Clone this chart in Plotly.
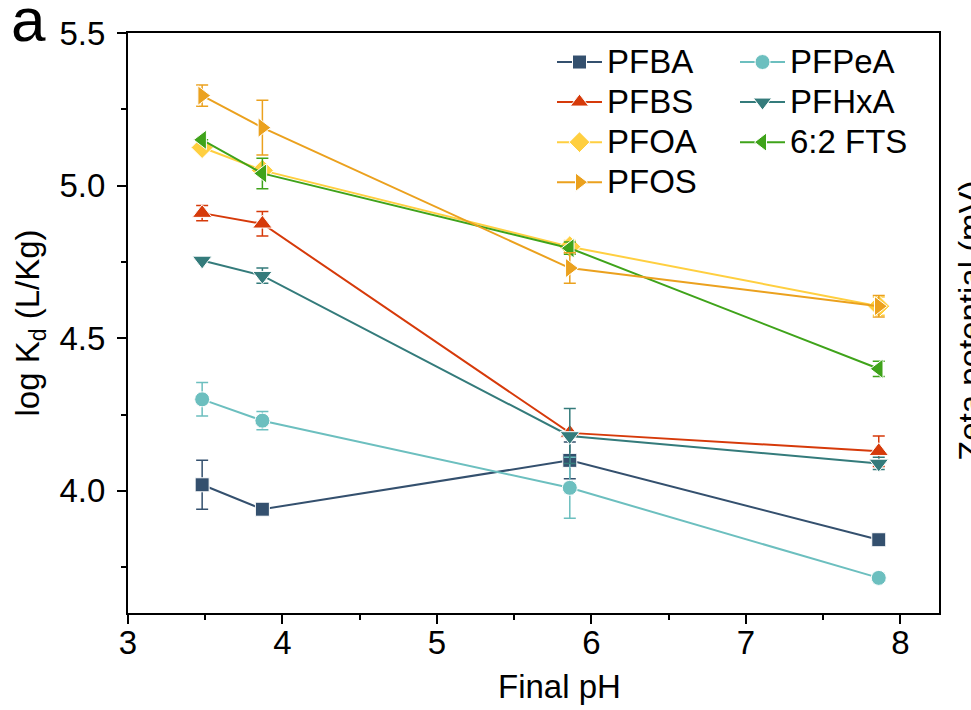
import plotly.graph_objects as go

# ---------------- data ----------------
ph = [3.48, 3.87, 5.86, 7.86]

names = ["PFBA", "PFPeA", "PFBS", "PFHxA", "PFOA", "6:2 FTS", "PFOS"]

pfba = [4.02, 3.94, 4.10, 3.84]
pfba_err = [0.08, 0.0, 0.06, 0.0]
pfpea = [4.30, 4.23, 4.01, 3.715]
pfpea_err = [0.055, 0.03, 0.10, 0.012]
pfbs = [4.91, 4.875, 4.19, 4.13]
pfbs_err = [0.025, 0.04, 0.0, 0.05]
pfhxa = [4.755, 4.705, 4.18, 4.09]
pfhxa_err = [0.0, 0.025, 0.09, 0.02]
pfoa = [5.125, 5.05, 4.80, 4.605]
pfoa_err = [0.0, 0.0, 0.02, 0.03]
fts = [5.15, 5.04, 4.795, 4.40]
fts_err = [0.0, 0.05, 0.02, 0.025]
pfos = [5.295, 5.19, 4.73, 4.605]
pfos_err = [0.035, 0.09, 0.05, 0.035]

series_y = [pfba, pfpea, pfbs, pfhxa, pfoa, fts, pfos]
series_err = [pfba_err, pfpea_err, pfbs_err, pfhxa_err, pfoa_err, fts_err, pfos_err]

x_ticks = [3, 4, 5, 6, 7, 8]
y_ticks = [4.0, 4.5, 5.0, 5.5]

# ---------------- style ----------------
colors = ["#34506e", "#6cbfbf", "#d63a0a", "#347b7b", "#ffcf40", "#3fa31a", "#eba11e"]
symbols = ["square", "circle", "triangle-up", "triangle-down", "diamond",
           "triangle-left", "triangle-right"]
msizes = [14, 15, 17, 17, 17, 17, 17]
legend_of = ["legend", "legend2", "legend", "legend2", "legend", "legend2", "legend"]

W, H = 971, 710
L, R, T, B = 128, 32, 33, 97
pw, ph_ = W - L - R, H - T - B

def px_x(px):
    return (px - L) / pw

def px_y(py):
    return 1 - (py - T) / ph_

FONT = "Arial, Liberation Sans, sans-serif"
FS = 33
LEG_FS = 28.5

fig = go.Figure()
for i, n in enumerate(names):
    fig.add_trace(go.Scatter(
        x=ph, y=series_y[i],
        name='<span style="font-size:%dpx">%s</span>' % (FS, n),
        mode="lines+markers",
        line=dict(color=colors[i], width=2),
        marker=dict(symbol=symbols[i], size=msizes[i], color=colors[i],
                    line=dict(color="white", width=1)),
        error_y=dict(type="data", array=series_err[i], visible=True,
                     color=colors[i], thickness=1.5, width=6),
        legend=legend_of[i],
    ))

axis_common = dict(
    showline=True, linecolor="black", linewidth=2, mirror=True,
    ticks="outside", tickcolor="black", tickwidth=2, ticklen=9,
    showgrid=False, zeroline=False,
    tickfont=dict(family=FONT, size=FS, color="black"),
)

fig.update_layout(
    width=W, height=H,
    margin=dict(l=L, r=R, t=T, b=B, autoexpand=False),
    paper_bgcolor="white", plot_bgcolor="white",
    font=dict(family=FONT, size=FS, color="black"),
    xaxis=dict(range=[3, 8.25], tickvals=x_ticks, ticktext=[str(v) for v in x_ticks],
               **axis_common,
               minor=dict(ticks="outside", ticklen=5, tickwidth=2, tickcolor="black", dtick=0.5),
               ticklabelstandoff=-10),
    yaxis=dict(range=[3.6, 5.5], tickvals=y_ticks, ticktext=["%.1f" % v for v in y_ticks],
               **axis_common,
               minor=dict(ticks="outside", ticklen=5, tickwidth=2, tickcolor="black",
                          tickvals=[3.75, 4.25, 4.75, 5.25]),
               ticklabelstandoff=5,
               title=dict(text="log K<sub>d</sub> (L/Kg)", font=dict(family=FONT, size=FS),
                          standoff=10)),
    legend=dict(x=px_x(552), y=px_y(37), xanchor="left", yanchor="top",
                bgcolor="rgba(0,0,0,0)", borderwidth=0, itemwidth=45,
                font=dict(family=FONT, size=LEG_FS, color="black"), tracegroupgap=0),
    legend2=dict(x=px_x(735), y=px_y(37), xanchor="left", yanchor="top",
                 bgcolor="rgba(0,0,0,0)", borderwidth=0, itemwidth=45,
                 font=dict(family=FONT, size=LEG_FS, color="black"), tracegroupgap=0),
    showlegend=True,
)

fig.add_annotation(text="Final pH", xref="paper", yref="paper",
                   x=px_x(559), y=px_y(686), xanchor="center", yanchor="middle",
                   showarrow=False, font=dict(family=FONT, size=FS, color="black"))
fig.add_annotation(text="a", xref="paper", yref="paper",
                   x=px_x(28), y=px_y(19), xanchor="center", yanchor="middle",
                   showarrow=False, font=dict(family=FONT, size=62, color="black"))
fig.add_annotation(text="Zeta potential (mV)", xref="paper", yref="paper",
                   x=px_x(970), y=px_y(321), xanchor="center", yanchor="middle",
                   textangle=-90, showarrow=False,
                   font=dict(family=FONT, size=FS, color="black"))

fig.write_html("out.html", config={"displayModeBar": False},
               post_script="document.body.style.margin='0';")
